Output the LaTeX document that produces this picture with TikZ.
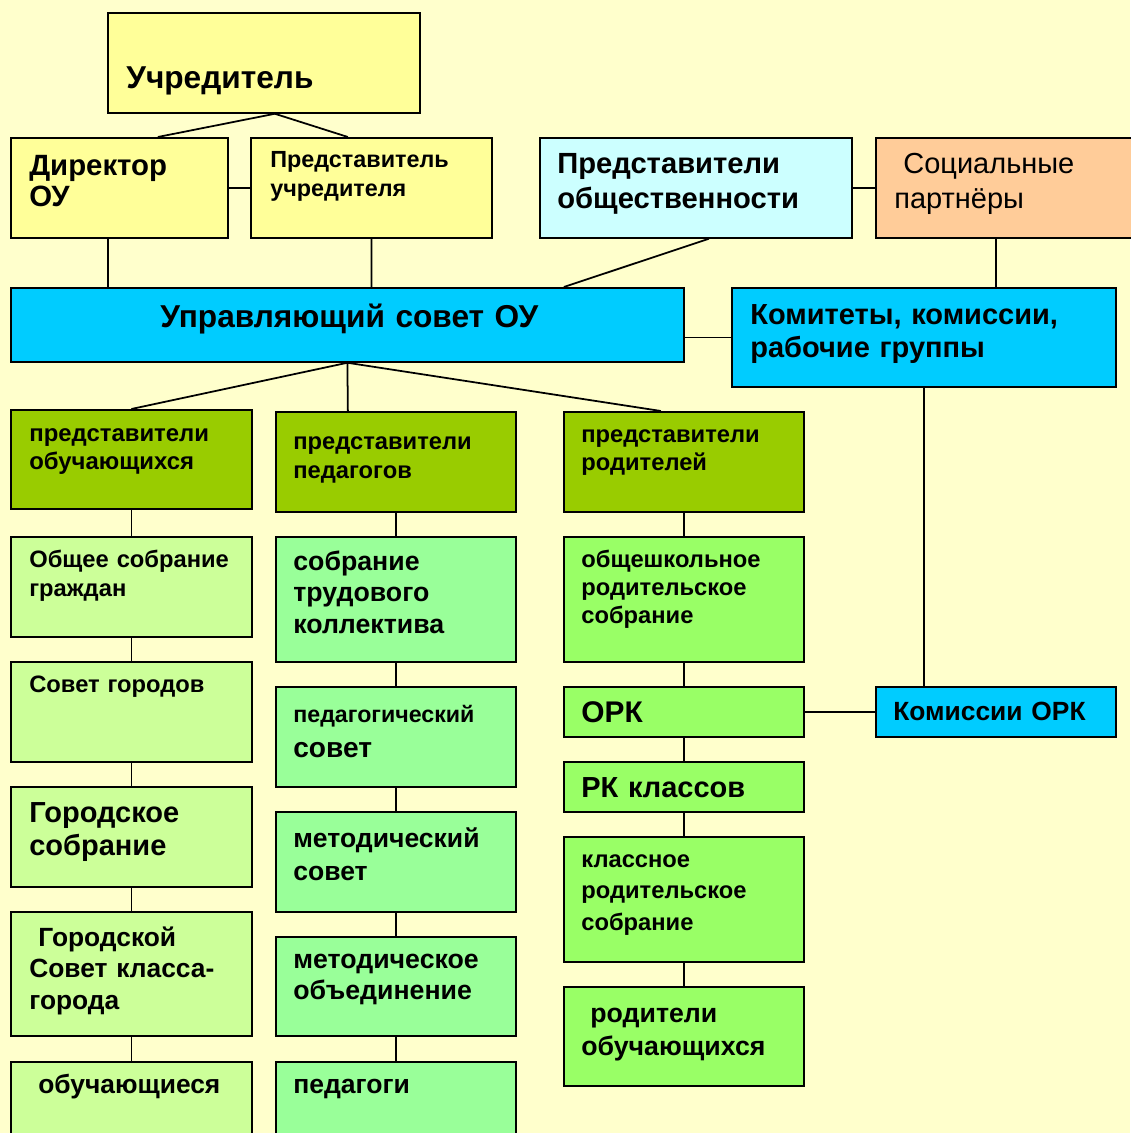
\documentclass[tikz,border=0pt]{standalone}
\usepackage{fontspec}
\setmainfont{Liberation Sans}
\usetikzlibrary{positioning}

\definecolor{bgcol}{HTML}{FFFFCC}
\definecolor{yel}{HTML}{FFFF99}
\definecolor{pale}{HTML}{CCFFFF}
\definecolor{peach}{HTML}{FFCC99}
\definecolor{sky}{HTML}{00CCFF}
\definecolor{olive}{HTML}{99CC00}
\definecolor{lime}{HTML}{CCFF99}
\definecolor{mint}{HTML}{99FF99}
\definecolor{grass}{HTML}{99FF66}
\newcommand\bsz[2]{\fontsize{#1}{#2}\selectfont\bfseries}

\begin{document}
\begin{tikzpicture}[
    box/.style={draw, line width=1pt, anchor=north west, inner sep=0pt, minimum width=4.8cm, minimum height=2cm},
    txt/.style={anchor=base west, inner sep=0pt, align=left, text width=10cm},
    lnk/.style={line width=1pt}
]
\fill[bgcol] (0,0) rectangle (22.6,-22.66);
\useasboundingbox (0,0) rectangle (22.6,-22.66);

% top level
\node[box, fill=yel, minimum width=6.24cm] (uch) at (2.14,-0.24) {};
\node[box, fill=yel, minimum width=4.34cm] (dir) at (0.2,-2.74) {};
\node[box, fill=yel, minimum width=4.82cm] (predU) at (5.0,-2.74) {};
\node[box, fill=pale, minimum width=6.24cm] (predO) at (10.78,-2.74) {};
\node[box, fill=peach, minimum width=5.3cm] (soc) at (17.5,-2.74) {};
\node[box, fill=sky, minimum width=13.46cm, minimum height=1.48cm] (sovet) at (0.2,-5.74) {};
\node[box, fill=sky, minimum width=7.68cm, minimum height=1.98cm] (kom) at (14.62,-5.74) {};

% representatives
\node[box, fill=olive, minimum width=4.82cm, minimum height=1.98cm] (pObu) at (0.2,-8.18) {};
\node[box, fill=olive] (pPed) at (5.5,-8.22) {};
\node[box, fill=olive] (pRod) at (11.26,-8.22) {};

% pupils
\node[box, fill=lime, minimum width=4.82cm] (obsh) at (0.2,-10.72) {};
\node[box, fill=lime, minimum width=4.82cm] (sovG) at (0.2,-13.22) {};
\node[box, fill=lime, minimum width=4.82cm] (gorS) at (0.2,-15.72) {};
\node[box, fill=lime, minimum width=4.82cm, minimum height=2.48cm] (gorSov) at (0.2,-18.22) {};
\node[box, fill=lime, minimum width=4.82cm, minimum height=1.8cm] (obuch) at (0.2,-21.22) {};

% teachers
\node[box, fill=mint, minimum height=2.5cm] (sobrT) at (5.5,-10.72) {};
\node[box, fill=mint] (pedS) at (5.5,-13.72) {};
\node[box, fill=mint] (metS) at (5.5,-16.22) {};
\node[box, fill=mint, minimum height=1.98cm] (metO) at (5.5,-18.72) {};
\node[box, fill=mint, minimum height=1.8cm] (ped) at (5.5,-21.22) {};

% parents
\node[box, fill=grass, minimum height=2.5cm] (obshR) at (11.26,-10.72) {};
\node[box, fill=grass, minimum height=1cm] (ork) at (11.26,-13.72) {};
\node[box, fill=grass, minimum height=1cm] (rk) at (11.26,-15.22) {};
\node[box, fill=grass, minimum height=2.5cm] (klR) at (11.26,-16.72) {};
\node[box, fill=grass, minimum height=1.98cm] (rodO) at (11.26,-19.72) {};
\node[box, fill=sky, minimum height=1cm] (komORK) at (17.5,-13.72) {};

% labels
\node[txt, font=\bsz{18}{21}] (uchT) at ([shift={(0.38,-1.54)}]uch.north west) {Учредитель};
\node[txt, font=\bsz{16.7}{18.2}] (dirT) at ([shift={(0.38,-0.76)}]dir.north west) {Директор\\ОУ};
\node[txt, font=\bsz{13.3}{17}] (predUT) at ([shift={(0.4,-0.6)}]predU.north west) {Представитель\\учредителя};
\node[txt, font=\bsz{16.6}{20}] (predOT) at ([shift={(0.36,-0.72)}]predO.north west) {Представители\\общественности};
\node[txt, font=\fontsize{16.5}{20}\selectfont] (socT) at ([shift={(0.38,-0.72)}]soc.north west) {\hspace*{0.18cm}Социальные\\партнёры};
\node[txt, font=\bsz{18}{21}] (sovetT) at ([shift={(3.0,-0.8)}]sovet.north west) {Управляющий совет ОУ};
\node[txt, font=\bsz{16.5}{19.3}] (komT) at ([shift={(0.38,-0.74)}]kom.north west) {Комитеты, комиссии,\\рабочие группы};

\node[txt, font=\bsz{13.6}{16}] (pObuT) at ([shift={(0.38,-0.64)}]pObu.north west) {представители\\обучающихся};
\node[txt, font=\bsz{13.5}{17}] (pPedT) at ([shift={(0.36,-0.76)}]pPed.north west) {представители\\педагогов};
\node[txt, font=\bsz{13.5}{16.5}] (pRodT) at ([shift={(0.36,-0.62)}]pRod.north west) {представители\\родителей};

\node[txt, font=\bsz{13.5}{17}] (obshT) at ([shift={(0.38,-0.62)}]obsh.north west) {Общее собрание\\граждан};
\node[txt, font=\bsz{13.5}{17}] (sovGT) at ([shift={(0.38,-0.62)}]sovG.north west) {Совет городов};
\node[txt, font=\bsz{16.5}{19}] (gorST) at ([shift={(0.38,-0.72)}]gorS.north west) {Городское\\собрание};
\node[txt, font=\bsz{15}{18}] (gorSovT) at ([shift={(0.38,-0.7)}]gorSov.north west) {\hspace*{0.18cm}Городской\\Совет класса-\\города};
\node[txt, font=\bsz{15}{18}] (obuchT) at ([shift={(0.38,-0.64)}]obuch.north west) {\hspace*{0.18cm}обучающиеся};

\node[txt, font=\bsz{15.2}{18.2}] (sobrTT) at ([shift={(0.36,-0.68)}]sobrT.north west) {собрание\\трудового\\коллектива};
\node[txt, font=\bsz{13.2}{20}] (pedST) at ([shift={(0.36,-0.72)}]pedS.north west) {педагогический\\{\bsz{16}{20}совет}};
\node[txt, font=\bsz{15.1}{18.8}] (metST) at ([shift={(0.36,-0.72)}]metS.north west) {методический\\совет};
\node[txt, font=\bsz{15.2}{18.2}] (metOT) at ([shift={(0.36,-0.64)}]metO.north west) {методическое\\объединение};
\node[txt, font=\bsz{15.1}{18.2}] (pedT) at ([shift={(0.36,-0.64)}]ped.north west) {педагоги};

\node[txt, font=\bsz{13.5}{16.2}] (obshRT) at ([shift={(0.36,-0.62)}]obshR.north west) {общешкольное\\родительское\\собрание};
\node[txt, font=\bsz{17}{20}] (orkT) at ([shift={(0.36,-0.72)}]ork.north west) {ОРК};
\node[txt, font=\bsz{16.5}{20}] (rkT) at ([shift={(0.36,-0.72)}]rk.north west) {РК классов};
\node[txt, font=\bsz{13.5}{18.2}] (klRT) at ([shift={(0.36,-0.62)}]klR.north west) {классное\\родительское\\собрание};
\node[txt, font=\bsz{15.2}{18.8}] (rodOT) at ([shift={(0.36,-0.72)}]rodO.north west) {\hspace*{0.18cm}родители\\обучающихся};
\node[txt, font=\bsz{15}{18}] (komORKT) at ([shift={(0.36,-0.68)}]komORK.north west) {Комиссии ОРК};

% links
\draw[lnk] ([xshift=0.22cm]uch.south) -- ([xshift=0.77cm]dir.north);
\draw[lnk] ([xshift=0.22cm]uch.south) -- ([xshift=-0.47cm]predU.north);
\draw[lnk] (dir.east) -- (predU.west);
\draw[lnk] (predO.east) -- (soc.west);
\draw[lnk] ([xshift=-0.23cm]dir.south) -- ([xshift=-4.79cm]sovet.north);
\draw[lnk] (predU.south) -- ([xshift=0.48cm]sovet.north);
\draw[lnk] ([xshift=0.26cm]predO.south) -- ([xshift=4.33cm]sovet.north);
\draw[lnk] ([xshift=-0.25cm]soc.south) -- ([xshift=1.44cm]kom.north);
\draw[lnk] (kom.west) -- (kom.west -| sovet.east);
\draw[lnk] (kom.south) -- ([xshift=-1.44cm]komORK.north);
\draw[lnk] (sovet.south) -- (pObu.north);
\draw[lnk] (sovet.south) -- ([xshift=-0.96cm]pPed.north);
\draw[lnk] (sovet.south) -- ([xshift=-0.46cm]pRod.north);
\draw[lnk] (ork.east) -- (komORK.west);
\foreach \a/\b in {pObu/obsh, obsh/sovG, sovG/gorS, gorS/gorSov, gorSov/obuch,
                   pPed/sobrT, sobrT/pedS, pedS/metS, metS/metO, metO/ped,
                   pRod/obshR, obshR/ork, ork/rk, rk/klR, klR/rodO}
  \draw[lnk] (\a.south) -- (\b.north);
\end{tikzpicture}
\end{document}
